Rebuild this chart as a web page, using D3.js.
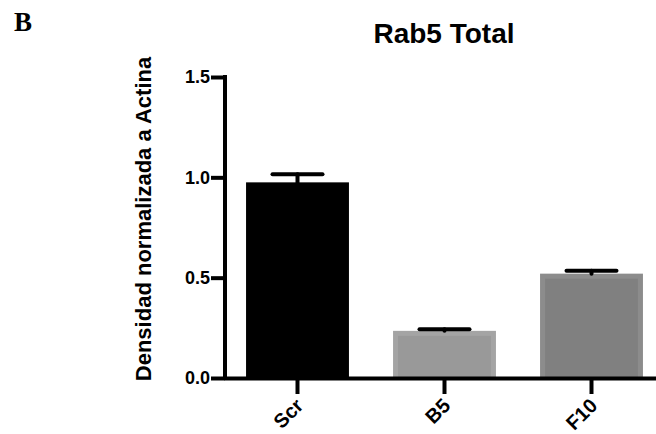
<!DOCTYPE html>
<html><head><meta charset="utf-8">
<script src="https://cdn.jsdelivr.net/npm/d3@7"></script>
<style>body{margin:0;background:#fff}svg{display:block}</style>
</head><body>
<svg id="c" width="656" height="434"></svg>
<script>
const categories = ["Scr", "B5", "F10"];
const values = [0.975, 0.235, 0.52];
const errors = [0.04, 0.008, 0.015];
const yTicks = [0.0, 0.5, 1.0, 1.5];
const outerColors = ["#000000", "#a4a4a4", "#8c8c8c"];
const innerColors = ["#000000", "#999999", "#808080"];
const title = "Rab5 Total";
const yLabel = "Densidad normalizada a Actina";
const panel = "B";

const svg = d3.select("#c");
const font = "Arial, 'Liberation Sans', Helvetica, sans-serif";

const y = d3.scaleLinear().domain([0, 1.5]).range([378, 77]);
const x = d3.scaleBand().domain(categories).range([224, 665]).paddingInner(0.3).paddingOuter(0.15);

// bars
const bars = svg.append("g");
categories.forEach((c, i) => {
  const x0 = x(c), w = x.bandwidth(), top = y(values[i]), h = y(0) - top;
  bars.append("rect").attr("x", x0).attr("y", top).attr("width", w).attr("height", h).attr("fill", outerColors[i]);
  const ins = 5;
  bars.append("rect").attr("x", x0 + ins).attr("y", top + ins).attr("width", w - 2 * ins).attr("height", Math.max(0, h - ins)).attr("fill", innerColors[i]);
});

// error bars
const eb = svg.append("g").attr("stroke", "#000").attr("stroke-width", 4).attr("stroke-linecap", "round");
categories.forEach((c, i) => {
  const cx = x(c) + x.bandwidth() / 2;
  eb.append("line").attr("x1", cx).attr("x2", cx).attr("y1", y(values[i])).attr("y2", y(values[i] + errors[i]));
  eb.append("line").attr("x1", cx - 25).attr("x2", cx + 25).attr("y1", y(values[i] + errors[i])).attr("y2", y(values[i] + errors[i]));
});

// y axis
const yAxis = svg.append("g").attr("transform", "translate(225,0)")
  .call(d3.axisLeft(y).tickValues(yTicks).tickFormat(d3.format(".1f")).tickSize(14).tickSizeOuter(0).tickPadding(1));
yAxis.select(".domain").attr("stroke-width", 4).attr("d", `M0,${y(1.5) - 2}V${y(0) + 2}`);
yAxis.selectAll(".tick line").attr("stroke-width", 4);
yAxis.selectAll(".tick text").attr("font-family", font).attr("font-weight", "bold").attr("font-size", 18).attr("fill", "#000");

// x axis
const xAxis = svg.append("g").attr("transform", "translate(0,378)")
  .call(d3.axisBottom(x).tickSize(16).tickSizeOuter(0));
xAxis.select(".domain").attr("stroke-width", 4);
xAxis.selectAll(".tick line").attr("stroke-width", 4);
xAxis.selectAll(".tick text").attr("font-family", font).attr("font-weight", "bold").attr("font-size", 20).attr("fill", "#000")
  .attr("text-anchor", "end").attr("x", 0).attr("y", 0).attr("dy", 0).attr("transform", "translate(7,29) rotate(-45)");

// title
svg.append("text").attr("x", 444).attr("y", 43).attr("text-anchor", "middle")
  .attr("font-family", font).attr("font-weight", "bold").attr("font-size", 28).text(title);

// y label
svg.append("text").attr("transform", "translate(151,219) rotate(-90)").attr("text-anchor", "middle")
  .attr("font-family", font).attr("font-weight", "bold").attr("font-size", 22).text(yLabel);

// panel letter
svg.append("text").attr("x", 14).attr("y", 31)
  .attr("font-family", "'Liberation Serif', 'Times New Roman', serif").attr("font-weight", "bold").attr("font-size", 27).text(panel);
</script>
</body></html>
